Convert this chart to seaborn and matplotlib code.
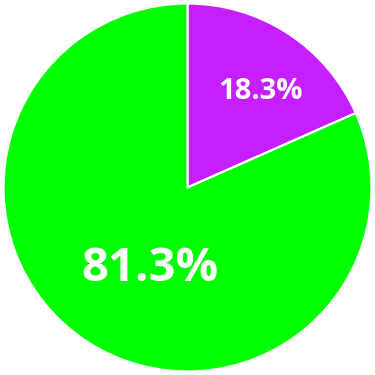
import matplotlib
matplotlib.use("Agg")
import matplotlib.pyplot as plt
import numpy as np
import seaborn as sns

# Data
categories = ["Purple", "Green"]
values = [18.3, 81.3]
colors = ["#C71EFF", "#00FF00"]

# label placement (fraction of radius, angular offset from slice middle in degrees)
label_radius = [0.655, 0.484]
label_angle_offset = [-4.2, 8.5]
label_sizes = [21, 34]

sns.set_style("white")

fig = plt.figure(figsize=(3.75, 3.75), dpi=100)
ax = fig.add_axes([0, 0, 1, 1])
wedges, _ = ax.pie(values, colors=colors, startangle=90, counterclock=False,
                   radius=1.0, wedgeprops=dict(edgecolor="white", linewidth=1.6))
for w, v, r, da, s in zip(wedges, values, label_radius, label_angle_offset, label_sizes):
    mid = np.deg2rad((w.theta1 + w.theta2) / 2 + da)
    ax.text(r * np.cos(mid), r * np.sin(mid), f"{v:.1f}%", ha="center", va="center",
            color="white", fontsize=s, fontweight="bold", family="Open Sans")
lim = 187.5 / 184
ax.set_xlim(-lim, lim)
ax.set_ylim(-lim, lim)
ax.set_aspect("equal")
ax.axis("off")
fig.savefig("out.png", dpi=100)
